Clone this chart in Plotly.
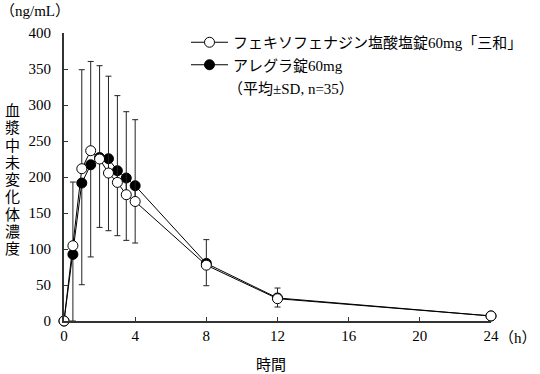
import plotly.graph_objects as go

time_h = [0, 0.5, 1, 1.5, 2, 2.5, 3, 3.5, 4, 8, 12, 24]
generic_mean = [0, 104.6, 211.5, 236.5, 225, 205.5, 192.5, 175.4, 166, 77.5, 31, 7]
generic_sd_up = [0, 88.4, 137.5, 124, 129.6, 134.5, 120.5, 115.3, 113.6, 35.5, 14.8, 0]
allegra_mean = [0, 92.5, 191.6, 217, 227, 225.4, 208.7, 198.6, 187.9, 80, 32, 7]
allegra_sd_down = [0, 92.5, 141.2, 128, 97, 100, 90.2, 86.6, 79.6, 31, 12.6, 0]

name_generic = "フェキソフェナジン塩酸塩錠60mg「三和」"
name_allegra = "アレグラ錠60mg"
note_text = "（平均±SD, n=35）"
y_unit = "（ng/mL）"
x_unit = "（h）"
y_title_chars = list("血漿中未変化体濃度")
x_title = "時間"
x_ticks = [0, 4, 8, 12, 16, 20, 24]
y_ticks = [0, 50, 100, 150, 200, 250, 300, 350, 400]

FONT = "Liberation Serif, Noto Sans CJK JP"
W, H = 540, 374
PX0, PY0, PW, PH = 64, 33, 427, 288


def px(sx):
    return (sx - PX0) / PW


def py(sy):
    return 1 - (sy - PY0) / PH


fig = go.Figure()
fig.add_trace(go.Scatter(
    x=time_h, y=allegra_mean, name=name_allegra, mode="lines+markers",
    legendrank=2,
    line=dict(color="black", width=1),
    marker=dict(symbol="circle", size=10, color="black", line=dict(color="black", width=1)),
    error_y=dict(type="data", symmetric=False, array=[0] * len(time_h), arrayminus=allegra_sd_down,
                 color="#222", thickness=1, width=3),
    cliponaxis=False,
))
fig.add_trace(go.Scatter(
    x=time_h, y=generic_mean, name=name_generic, mode="lines+markers",
    legendrank=1,
    line=dict(color="black", width=1),
    marker=dict(symbol="circle", size=10, color="white", line=dict(color="black", width=1)),
    error_y=dict(type="data", symmetric=False, array=generic_sd_up, arrayminus=[0] * len(time_h),
                 color="#222", thickness=1, width=3),
    cliponaxis=False,
))

annotations = [
    dict(text=y_unit, x=px(35), y=py(11), xanchor="center", yanchor="middle"),
    dict(text=note_text, x=px(226), y=py(89), xanchor="left", yanchor="middle"),
    dict(text=x_title, x=px(271), y=py(365), xanchor="center", yanchor="middle"),
    dict(text=x_unit, x=px(518), y=py(338), xanchor="center", yanchor="middle"),
]
for i, ch in enumerate(y_title_chars):
    annotations.append(dict(text=ch, x=px(12), y=py(111 + 17.25 * i), xanchor="center", yanchor="middle"))
for a in annotations:
    a.update(xref="paper", yref="paper", showarrow=False, font=dict(size=15, family=FONT))

fig.update_layout(
    width=W, height=H,
    margin=dict(l=PX0, r=W - PX0 - PW, t=PY0, b=H - PY0 - PH, autoexpand=False),
    paper_bgcolor="white", plot_bgcolor="white",
    font=dict(family=FONT, size=15, color="black"),
    showlegend=True,
    legend=dict(x=px(186), y=py(26), xanchor="left", yanchor="top",
                bgcolor="rgba(0,0,0,0)", font=dict(size=15, family=FONT),
                itemwidth=37, traceorder="normal", tracegroupgap=3),
    xaxis=dict(range=[0, 24], tickvals=x_ticks, ticktext=[str(v) for v in x_ticks],
               showline=True, linecolor="#333", linewidth=2, ticks="inside", ticklen=4,
               tickcolor="#333", showgrid=False, zeroline=False, automargin=False,
               tickfont=dict(size=15, family=FONT)),
    yaxis=dict(range=[0, 400], tickvals=y_ticks, showline=True, linecolor="#333", linewidth=2,
               ticks="inside", ticklen=4, tickcolor="#333", showgrid=False, zeroline=False,
               automargin=False, ticklabelstandoff=8,
               tickfont=dict(size=15, family=FONT)),
    annotations=annotations,
)
fig.write_html("out.html", config={"displayModeBar": False},
               post_script="document.body.style.margin='0px';")
